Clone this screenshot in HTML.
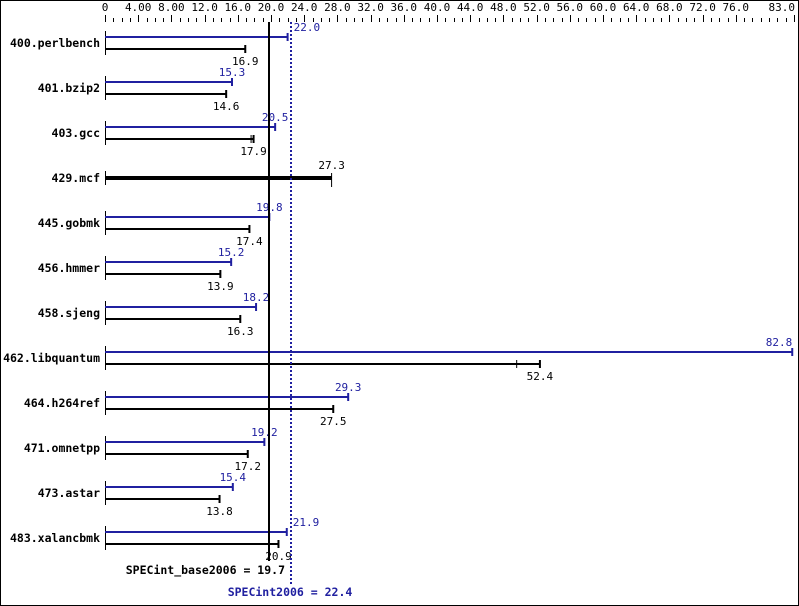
<!DOCTYPE html>
<html><head><meta charset="utf-8"><style>
html,body{margin:0;padding:0;background:#fff}
svg{display:block}
text{font-family:"DejaVu Sans Mono","Liberation Mono",monospace;font-size:11px}
.b{font-weight:bold;font-size:11.5px}
</style></head><body>
<svg id="s" width="799" height="606" viewBox="0 0 799 606" xmlns="http://www.w3.org/2000/svg">
<rect x="0.5" y="0.5" width="798" height="605" fill="#fff" stroke="#000"/>
</svg>
<script>
const s=document.getElementById('s'),NS='http://www.w3.org/2000/svg';
function el(t,a,txt){const e=document.createElementNS(NS,t);for(const k in a)e.setAttribute(k,a[k]);if(txt!==undefined)e.textContent=txt;s.appendChild(e);return e;}
const x0=105,k=8.3;const X=v=>x0+v*k;
for(let v=0;v<=83;v++){const x=Math.round(X(v))+0.5;const maj=v%4==0&&v<=76||v==83;el('line',{x1:x,x2:x,y1:maj?15:18,y2:22,stroke:'#000'});}
for(let v=0;v<=76;v+=4){let t=v==0?'0':(v<12?v.toFixed(2):v.toFixed(1));el('text',{x:X(v),y:11,'text-anchor':'middle'},t);}
el('text',{x:795,y:11,'text-anchor':'end'},'83.0');
const d=[['400.perlbench',22.0,16.9],['401.bzip2',15.3,14.6],['403.gcc',20.5,17.9,17.6],['429.mcf',null,27.3],['445.gobmk',19.8,17.4],['456.hmmer',15.2,13.9],['458.sjeng',18.2,16.3],['462.libquantum',82.8,52.4,49.6],['464.h264ref',29.3,27.5],['471.omnetpp',19.2,17.2],['473.astar',15.4,13.8],['483.xalancbmk',21.9,20.9]];
d.forEach((r,i)=>{const yb=37+45*i,yk=49+45*i,yc=43+45*i;
el('text',{x:100,y:yc+4,'text-anchor':'end',class:'b'},r[0]);
if(r[1]===null){el('line',{x1:105,x2:X(r[2]),y1:yc,y2:yc,stroke:'#000','stroke-width':4});
el('line',{x1:105.5,x2:105.5,y1:yc-7,y2:yc+7,stroke:'#000'});
el('line',{x1:X(r[2]),x2:X(r[2]),y1:yc-5,y2:yc+9,stroke:'#000'});
el('text',{x:X(r[2]),y:yc-9,'text-anchor':'middle'},r[2].toFixed(1));return;}
el('line',{x1:105.5,x2:105.5,y1:yb-6,y2:yk+6,stroke:'#000'});
el('line',{x1:105,x2:X(r[1]),y1:yb,y2:yb,stroke:'#2020a0','stroke-width':2});
el('line',{x1:X(r[1]),x2:X(r[1]),y1:yb-4,y2:yb+4,stroke:'#2020a0','stroke-width':2});
el('line',{x1:105,x2:X(r[2]),y1:yk,y2:yk,stroke:'#000','stroke-width':2});
el('line',{x1:X(r[2]),x2:X(r[2]),y1:yk-4,y2:yk+4,stroke:'#000','stroke-width':2});
if(r[3])el('line',{x1:X(r[3]),x2:X(r[3]),y1:yk-4,y2:yk+4,stroke:'#000','stroke-width':1});
const near=Math.abs(r[1]-22.4)<1;
if(near)el('text',{x:X(r[1])+6,y:yb-6,fill:'#2020a0'},r[1].toFixed(1));
else el('text',{x:Math.min(X(r[1]),779),y:yb-6,'text-anchor':'middle',fill:'#2020a0'},r[1].toFixed(1));
el('text',{x:X(r[2]),y:yk+16,'text-anchor':'middle'},r[2].toFixed(1));
});
el('line',{x1:269,x2:269,y1:22,y2:561,stroke:'#000','stroke-width':2});
el('line',{x1:291,x2:291,y1:22,y2:585,stroke:'#2020a0','stroke-width':2,'stroke-dasharray':'2,2'});
el('text',{x:285,y:574,'text-anchor':'end',class:'b'},'SPECint_base2006 = 19.7');
el('text',{x:290,y:596,'text-anchor':'middle',class:'b',fill:'#2020a0'},'SPECint2006 = 22.4');
</script>
</body></html>
